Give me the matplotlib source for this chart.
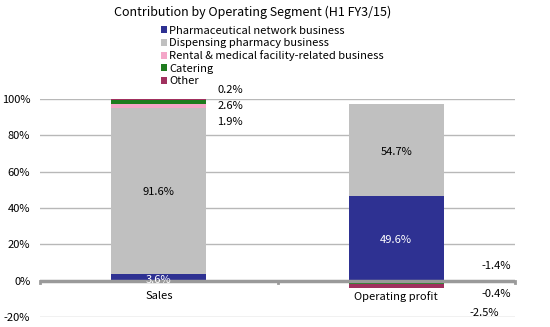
import numpy as np
import matplotlib.pyplot as plt
from matplotlib.patches import Patch

plt.rcParams['font.family'] = ['Noto Sans CJK JP', 'DejaVu Sans']

title = "Contribution by Operating Segment (H1 FY3/15)"
categories = ["Sales", "Operating profit"]
segments = ["Pharmaceutical network business",
            "Dispensing pharmacy business",
            "Rental & medical facility-related business",
            "Catering",
            "Other"]
colors = ["#2E3192", "#C0C0C0", "#F4A6C8", "#1E7B1E", "#A0305E"]

# bar heights as drawn in the picture (%)
sales = [3.6, 91.6, 1.9, 2.6, 0.2]
op_profit = [46.6, 50.6, -1.4, -0.4, -2.5]
# data label text as printed
sales_labels = ["3.6%", "91.6%", "1.9%", "2.6%", "0.2%"]
op_labels = ["49.6%", "54.7%", "-1.4%", "-0.4%", "-2.5%"]
y_ticks = [-20, 0, 20, 40, 60, 80, 100]

fig = plt.figure(figsize=(5.5, 3.27), dpi=100)
ax = fig.add_axes([40 / 550, 1 - 317 / 327, 475 / 550, 218 / 327])

x = np.arange(len(categories))
width = 0.4
data = np.array([sales, op_profit])
pos_base = np.zeros(len(categories))
neg_base = np.zeros(len(categories))
for i, seg in enumerate(segments):
    vals = data[:, i]
    bottoms = np.where(vals >= 0, pos_base, neg_base)
    ax.bar(x, vals, width, bottom=bottoms, color=colors[i], zorder=2)
    pos_base += np.clip(vals, 0, None)
    neg_base += np.clip(vals, None, 0)

ax.set_xlim(-0.5, 1.5)
ax.set_ylim(-20, 100)
ax.set_yticks(y_ticks)
ax.set_yticklabels([f"{t}%" for t in y_ticks], fontsize=8)
ax.yaxis.grid(True, color="#B8B8B8", linewidth=1, zorder=0)
ax.tick_params(axis="y", length=0, pad=7)
ax.tick_params(axis="x", length=0)
ax.set_xticks([])
for s in ax.spines.values():
    s.set_visible(False)

# zero axis line with small ticks
ax.axhline(0, color="#9A9A9A", linewidth=2.5, zorder=3)
for tx in [-0.5, 0.5, 1.5]:
    ax.plot([tx, tx], [0, -1.2], color="#9A9A9A", linewidth=2, zorder=3,
            clip_on=False)
for xi, c in zip(x, categories):
    ax.text(xi, -8.5, c, ha="center", va="center", fontsize=8)

# labels inside bars
ax.text(0, 0.3, sales_labels[0], ha="center", va="center", fontsize=8,
        color="white", zorder=4)
ax.text(0, 49, sales_labels[1], ha="center", va="center", fontsize=8, zorder=4)
ax.text(1, 71, op_labels[1], ha="center", va="center", fontsize=8, zorder=4)
ax.text(1, 22.5, op_labels[0], ha="center", va="center", fontsize=8,
        color="white", zorder=4)

# small segment labels outside the bars
ax.text(0.3, 105, sales_labels[4], ha="center", va="center", fontsize=8)
ax.text(0.3, 96, sales_labels[3], ha="center", va="center", fontsize=8)
ax.text(0.3, 87.5, sales_labels[2], ha="center", va="center", fontsize=8)
ax.text(1.42, 8, op_labels[2], ha="center", va="center", fontsize=8)
ax.text(1.42, -7.5, op_labels[3], ha="center", va="center", fontsize=8)
ax.text(1.37, -18, op_labels[4], ha="center", va="center", fontsize=8)

fig.text(253 / 550, 1 - 12 / 327, title, ha="center", va="center", fontsize=9)

handles = [Patch(facecolor=c) for c in colors]
fig.legend(handles, segments, loc="upper left",
           bbox_to_anchor=(155 / 550, 1 - 20 / 327), frameon=False,
           fontsize=8, handlelength=0.6, handleheight=0.6,
           handletextpad=0.2, labelspacing=0.22, borderpad=0)

fig.savefig("out.png", dpi=100)
